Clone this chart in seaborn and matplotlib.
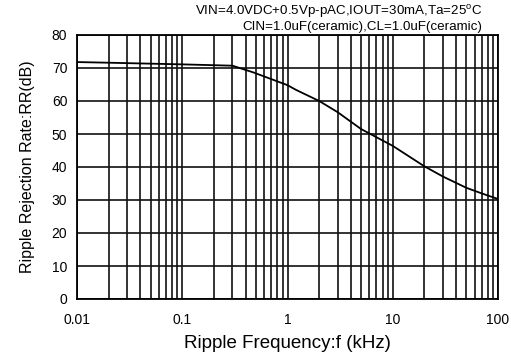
import numpy as np
import pandas as pd
import matplotlib
matplotlib.use("Agg")
import matplotlib.pyplot as plt
import seaborn as sns
from matplotlib.ticker import FixedLocator, NullFormatter

freq_khz = [0.01, 0.02, 0.1, 0.3, 0.47, 1.0, 1.2, 2.0, 3.0, 5.0, 10.0, 20.0, 30.0, 50.0, 70.0, 100.0]
rr_db = [71.8, 71.6, 71.1, 70.7, 68.7, 64.8, 63.4, 60.0, 56.6, 51.5, 46.4, 40.2, 37.1, 33.7, 32.0, 30.3]
x_ticks = [0.01, 0.1, 1, 10, 100]
x_labels = ["0.01", "0.1", "1", "10", "100"]
y_ticks = [0, 10, 20, 30, 40, 50, 60, 70, 80]
cond_line1 = "VIN=4.0VDC+0.5Vp-pAC,IOUT=30mA,Ta=25$^\\mathregular{o}$C"
cond_line2 = "CIN=1.0uF(ceramic),CL=1.0uF(ceramic)"

sns.set_theme(style="white")
plt.rcParams['font.family'] = ['Liberation Sans', 'DejaVu Sans']

df = pd.DataFrame({"f": freq_khz, "rr": rr_db})

fig = plt.figure(figsize=(5.11, 3.55), dpi=100)
ax = fig.add_axes([77/511, 1-299/355, (498-77)/511, (299-35)/355])
sns.lineplot(data=df, x="f", y="rr", ax=ax, color="black", linewidth=1.3)
ax.set_xscale("log")
ax.set_xlim(0.01, 100)
ax.set_ylim(0, 80)

minor = [m * 10.0**e for e in range(-2, 2) for m in range(2, 10)]
ax.xaxis.set_major_locator(FixedLocator(x_ticks))
ax.xaxis.set_minor_locator(FixedLocator(minor))
ax.xaxis.set_minor_formatter(NullFormatter())
ax.set_xticks(x_ticks)
ax.set_xticklabels(x_labels)
ax.set_yticks(y_ticks)
ax.grid(True, which="both", axis="x", color="#111111", linewidth=1.2)
ax.grid(True, which="major", axis="y", color="#111111", linewidth=1.2)
ax.tick_params(axis="x", which="both", length=0, labelsize=10, colors="black", pad=10)
ax.tick_params(axis="y", which="both", length=0, labelsize=10, colors="black", pad=7)
for s in ax.spines.values():
    s.set_color("black")
    s.set_linewidth(1.3)
    s.set_visible(True)

ax.set_xlabel("Ripple Frequency:f (kHz)", fontsize=13.5, color="black", labelpad=6)
ax.set_ylabel("Ripple Rejection Rate:RR(dB)", fontsize=11.5, color="black", labelpad=12)

fig.text(482/511, 1-12/355, cond_line1, ha="right", va="center", fontsize=9.6, color="black")
fig.text(482/511, 1-27/355, cond_line2, ha="right", va="center", fontsize=9.6, color="black")

fig.savefig("out.png", dpi=100)
